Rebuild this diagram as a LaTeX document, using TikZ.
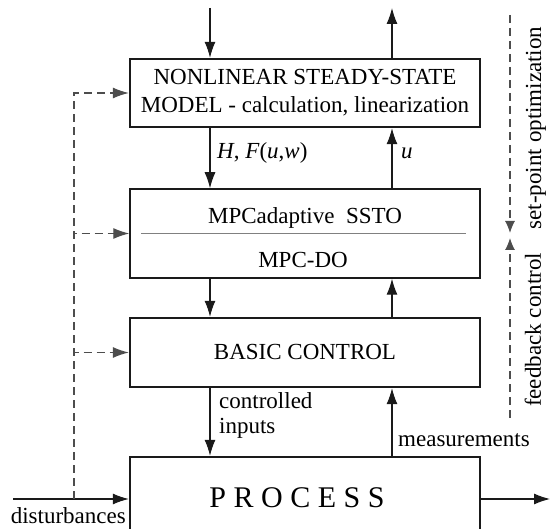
\documentclass[tikz,border=0pt]{standalone}
\usepackage{fontspec}
\setmainfont{Liberation Serif}
\usetikzlibrary{arrows.meta}
\definecolor{ink}{HTML}{1A1A1A}
\definecolor{dashgray}{HTML}{4D4D4D}
\definecolor{rulegray}{HTML}{808080}

\begin{document}
\begin{tikzpicture}[x=1pt,y=-1pt,
  lbl/.style={font=\fontsize{23}{28}\selectfont, inner sep=0pt},
  blk/.style={draw=ink, line width=2.4pt, minimum width=350pt, inner sep=0pt, lbl},
  sig/.style={draw=ink, line width=1.1pt, -{Latex[length=16pt,width=11pt]}},
  dsh/.style={draw=dashgray, line width=1.1pt, dash pattern=on 8pt off 5pt, -{Latex[length=16pt,width=11pt]}}]
  \useasboundingbox (0,0) rectangle (550,529);
  \clip (0,0) rectangle (550,529);
  \node[blk, minimum height=68pt, align=center] (model) at (305,93) {NONLINEAR STEADY-STATE\\MODEL - calculation, linearization};
  \node[blk, line width=1.5pt, minimum height=89pt] (mpc) at (305,233.5) {};
  \node[lbl] (ssto) at (305,218) {MPCadaptive\ \ SSTO};
  \node[lbl] (mpcdo) at (303,260) {MPC-DO};
  \draw[rulegray, line width=1.4pt] ([xshift=12pt]mpc.west) -- ([xshift=-15pt]mpc.east);
  \node[blk, minimum height=69pt] (basic) at (305,352.5) {BASIC CONTROL};
  \node[blk, minimum height=84pt] (process) at (305,499) {};
  \node[inner sep=0pt, font=\fontsize{30}{36}\selectfont] (ptxt) at (297,498) {P R O C E S S};
  % signal labels
  \node[lbl, anchor=west] (hfw) at (217,153) {\textit{H}, \textit{F}(\textit{u},\textit{w})};
  \node[lbl, anchor=west] (ulb) at (401,153) {\textit{u}};
  \node[lbl, anchor=west, align=left, font=\fontsize{23}{25}\selectfont] (cin) at (219,415.5) {controlled\\inputs};
  \node[lbl, anchor=west] (meas) at (398,440) {measurements};
  \node[lbl, anchor=east] (dist) at (126,516) {disturbances};
  \node[lbl, rotate=90] (spo) at (536,128) {set-point optimization};
  \node[lbl, rotate=90] (fbc) at (533,330) {feedback control};
  \coordinate (xin) at (210,8);
  \coordinate (xout) at (392,8);
  \coordinate (dsrc) at (13,499);
  \coordinate (dj) at (74,499);
  \coordinate (pout) at (550,499);
  \coordinate (spa) at (510,15);
  \coordinate (spb) at (510,233);
  \coordinate (fba) at (510,418);
  \coordinate (fbb) at (510,238);
  % vertical signals
  \draw[sig] (xin) -- (xin |- model.north);
  \draw[sig] (xout |- model.north) -- (xout);
  \draw[sig] (xin |- model.south) -- (xin |- mpc.north);
  \draw[sig] (xout |- mpc.north) -- (xout |- model.south);
  \draw[sig] (xin |- mpc.south) -- (xin |- basic.north);
  \draw[sig] (xout |- basic.north) -- (xout |- mpc.south);
  \draw[sig] (xin |- basic.south) -- (xin |- process.north);
  \draw[sig] (xout |- process.north) -- (xout |- basic.south);
  % disturbances
  \draw[sig] (dsrc) -- (process.west);
  \draw[sig] (process.east) -- (pout);
  \draw[dsh] (dj) |- (model.west);
  \draw[dsh] (dj) |- (mpc.west);
  \draw[dsh] (dj) |- (basic.west);
  % control layers
  \draw[dsh, -{Latex[length=12pt,width=10pt]}] (spa) -- (spb);
  \draw[dsh, -{Latex[length=12pt,width=10pt]}] (fba) -- (fbb);
\end{tikzpicture}
\end{document}
